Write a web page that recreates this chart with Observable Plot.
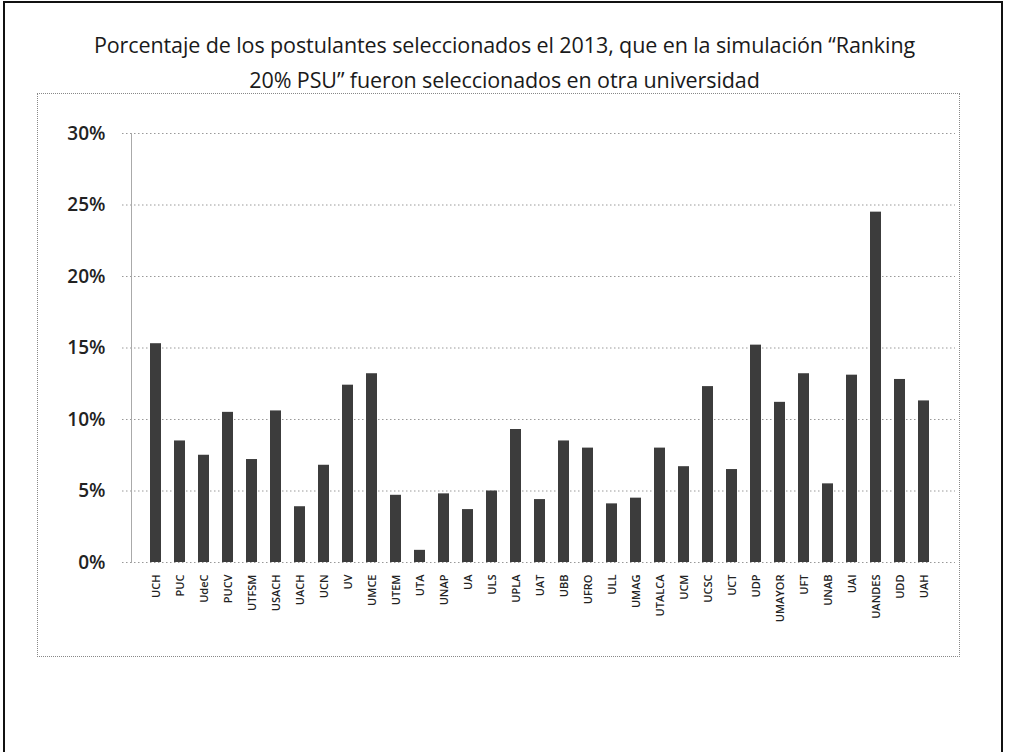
<!DOCTYPE html>
<html><head><meta charset="utf-8">
<script src="https://cdn.jsdelivr.net/npm/d3@7"></script>
<script src="https://cdn.jsdelivr.net/npm/@observablehq/plot@0.6"></script>
<style>
body{margin:0;background:#fff;}
#page{position:relative;width:1009px;height:752px;overflow:hidden;background:#fff;}
#outer{position:absolute;left:3px;top:1px;width:1000px;height:760px;border:2px solid #111;box-sizing:border-box;}
#plotbox{position:absolute;left:37px;top:93px;width:923px;height:564px;border:1px dotted #888;box-sizing:border-box;}
#title{position:absolute;left:0;top:27px;width:1009px;text-align:center;font-family:"Open Sans",sans-serif;font-size:21.5px;line-height:35px;color:#1a1a1a;letter-spacing:-0.1px;}
#chart{position:absolute;left:0;top:110px;}
</style></head><body>
<div id="page">
<div id="outer"></div>
<div id="plotbox"></div>
<div id="title">Porcentaje de los postulantes seleccionados el 2013, que en la simulación  “Ranking<br>20% PSU” fueron seleccionados en otra universidad</div>
<div id="chart"></div>
</div>
<script>
const universidades = ["UCH","PUC","UdeC","PUCV","UTFSM","USACH","UACH","UCN","UV","UMCE","UTEM","UTA","UNAP","UA","ULS","UPLA","UAT","UBB","UFRO","ULL","UMAG","UTALCA","UCM","UCSC","UCT","UDP","UMAYOR","UFT","UNAB","UAI","UANDES","UDD","UAH"];
const porcentajes = [15.3,8.5,7.5,10.5,7.2,10.6,3.9,6.8,12.4,13.2,4.7,0.85,4.8,3.7,5.0,9.3,4.4,8.5,8.0,4.1,4.5,8.0,6.7,12.3,6.5,15.2,11.2,13.2,5.5,13.1,24.5,12.8,11.3];
const yTicks = [0,5,10,15,20,25,30];

const data = universidades.map((u,i)=>({u, v: porcentajes[i]}));

const chart = Plot.plot({
  width: 1009,
  height: 642,
  marginTop: 23,
  marginBottom: 190,
  marginLeft: 131,
  marginRight: 62,
  style: {fontFamily: "'Open Sans', sans-serif", color: "#1a1a1a", background: "transparent"},
  x: {domain: universidades, padding: 0.56, label: null},
  y: {domain: [0,30], label: null},
  marks: [
    Plot.ruleY(yTicks, {stroke: "#999", strokeDasharray: "1.5,2.5", insetLeft: -9, insetRight: -8}),
    Plot.frame({anchor: "left", stroke: "#aaa"}),
    Plot.barY(data, {x: "u", y: "v", fill: "#3c3c3c"}),
    Plot.axisY(yTicks, {tickFormat: d => d + "%", tickSize: 0, tickPadding: 26, fontSize: 19, fontWeight: 600, fill: "#222", label: null}),
    Plot.axisX({tickRotate: -90, tickSize: 0, tickPadding: 12, fontSize: 11, fontWeight: 600, fill: "#222", label: null})
  ]
});
document.getElementById("chart").appendChild(chart);
</script>
</body></html>
